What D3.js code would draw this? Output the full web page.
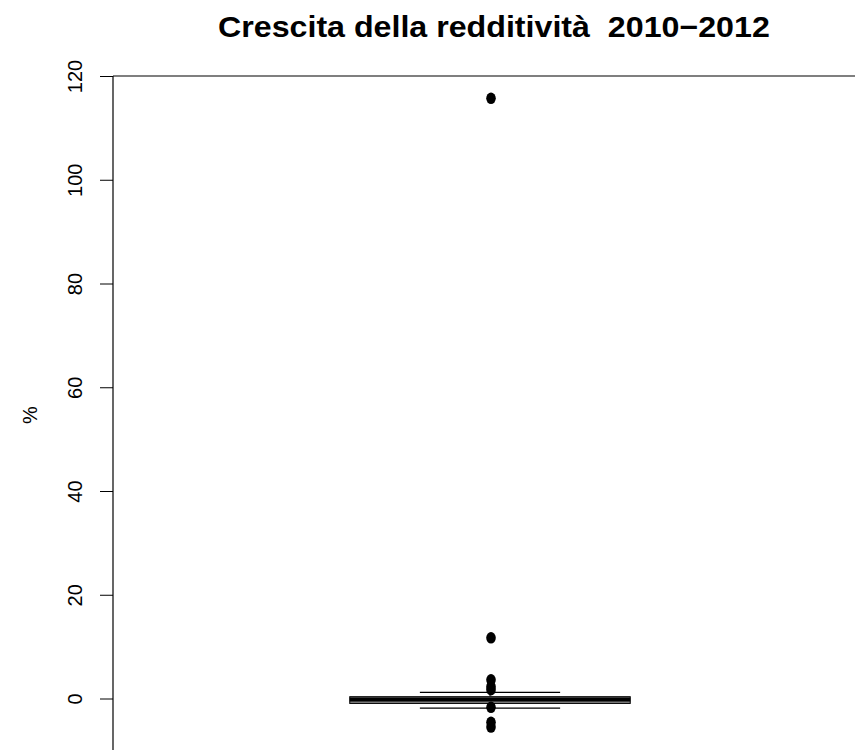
<!DOCTYPE html>
<html>
<head>
<meta charset="utf-8">
<script src="https://cdn.jsdelivr.net/npm/d3@7"></script>
<style>
  html, body { margin: 0; padding: 0; background: #fff; }
  svg { display: block; font-family: "Liberation Sans", Arial, sans-serif; }
  .title { white-space: pre; }
</style>
</head>
<body>
<svg id="chart" width="855" height="750"></svg>
<script>
// Box statistics for the growth of profitability, 2010-2012 (%)
const categories = ["Redditività"];
const boxStats = [{ lowerWhisker: -1.85, q1: -0.95, median: -0.2, q3: 0.35, upperWhisker: 1.2 }];
const outliers = [115.7, 11.7, 3.6, 2.3, 1.7, -1.7, -4.6, -5.5];
const yTicks = [0, 20, 40, 60, 80, 100, 120];

const titleText = "Crescita della redditività  2010\u22122012";
const yLabel = "%";

const svg = d3.select("#chart");

const y = d3.scaleLinear().domain([0, 120]).range([698.5, 76]);
const x = d3.scaleLinear().domain([0.5, 1.5]).range([113, 867]);
const boxHalf = 0.186;   // half box width, in x units
const stapleHalf = 0.093;

// title, stretched to its set width
const title = svg.append("text")
  .attr("class", "title")
  .attr("x", 0).attr("y", 0)
  .attr("font-weight", "bold")
  .attr("font-size", 29)
  .text(titleText);
const tw = title.node().getComputedTextLength();
const targetW = 552;
title.attr("transform", `translate(218,37) scale(${targetW / tw},1)`);

// left axis
const axis = d3.axisLeft(y).tickValues(yTicks).tickSize(13).tickPadding(0).tickFormat(d3.format("d"));
const gAxis = svg.append("g").attr("transform", "translate(113,0)").call(axis);
gAxis.select(".domain").remove();
gAxis.selectAll(".tick line").attr("stroke", "#000").attr("stroke-width", 1);
gAxis.selectAll(".tick text")
  .attr("font-size", 20)
  .attr("fill", "#000")
  .attr("font-family", "Liberation Sans, Arial, sans-serif")
  .attr("text-anchor", "middle")
  .attr("transform", "translate(-38,0) rotate(-90)")
  .attr("x", 0).attr("dy", "0.35em");

// frame lines
svg.append("line").attr("x1", 113).attr("x2", 113).attr("y1", y(120)).attr("y2", 750)
  .attr("stroke", "#000").attr("stroke-width", 1.2);
svg.append("line").attr("x1", 113).attr("x2", 855).attr("y1", y(120)).attr("y2", y(120))
  .attr("stroke", "#000").attr("stroke-width", 1.2);

// y label
svg.append("text")
  .attr("transform", "translate(37,415) rotate(-90)")
  .attr("text-anchor", "middle")
  .attr("font-size", 20)
  .text(yLabel);

// boxes
const g = svg.append("g");
boxStats.forEach((s, i) => {
  const cx = x(i + 1);
  // whiskers
  g.append("line").attr("x1", cx).attr("x2", cx).attr("y1", y(s.upperWhisker)).attr("y2", y(s.q3))
    .attr("stroke", "#000").attr("stroke-dasharray", "4,3");
  g.append("line").attr("x1", cx).attr("x2", cx).attr("y1", y(s.q1)).attr("y2", y(s.lowerWhisker))
    .attr("stroke", "#000").attr("stroke-dasharray", "4,3");
  // staples
  [s.upperWhisker, s.lowerWhisker].forEach(v => {
    g.append("line")
      .attr("x1", x(i + 1 - stapleHalf)).attr("x2", x(i + 1 + stapleHalf))
      .attr("y1", y(v)).attr("y2", y(v))
      .attr("stroke", "#000").attr("stroke-width", 1.2);
  });
  // box
  g.append("rect")
    .attr("x", x(i + 1 - boxHalf)).attr("width", x(i + 1 + boxHalf) - x(i + 1 - boxHalf))
    .attr("y", y(s.q3)).attr("height", y(s.q1) - y(s.q3))
    .attr("fill", "#808080").attr("stroke", "#000").attr("stroke-width", 1);
  // median
  g.append("line")
    .attr("x1", x(i + 1 - boxHalf)).attr("x2", x(i + 1 + boxHalf))
    .attr("y1", y(s.median)).attr("y2", y(s.median))
    .attr("stroke", "#000").attr("stroke-width", 4);
  // outliers
  g.selectAll(null).data(outliers).enter().append("ellipse")
    .attr("cx", cx + 1).attr("cy", d => y(d))
    .attr("rx", 4.8).attr("ry", 5.8)
    .attr("fill", "#000");
});
</script>
</body>
</html>
